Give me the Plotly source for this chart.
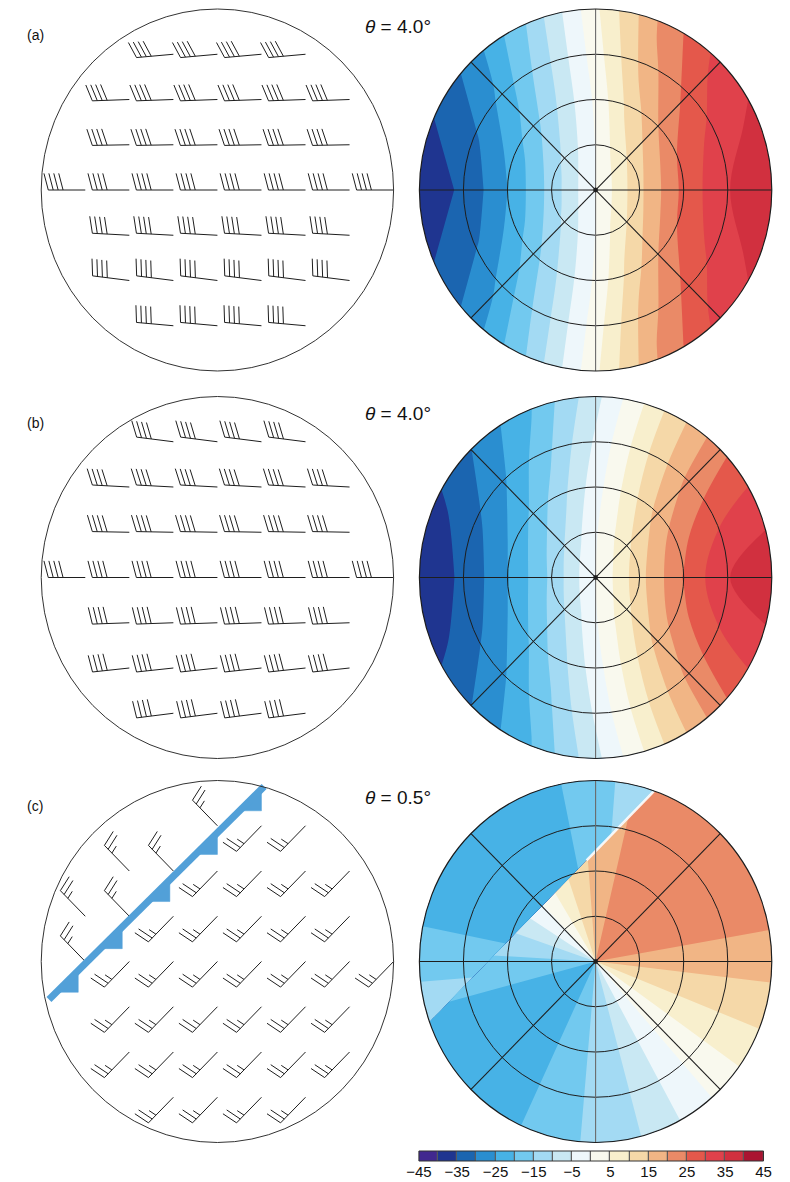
import math
import plotly.graph_objects as go

W, H = 790, 1182

# ---------------- colour levels (m s-1) ----------------
LEVELS = list(range(-45, 50, 5))
BAND_COLORS = [
    "#41288f", "#1f3590", "#1b65b0", "#2a8ed0", "#47b2e6", "#72c9ef",
    "#a3daf3", "#c9e8f3", "#eef7fb", "#f9f9ee", "#f8efcd", "#f5d8a8",
    "#f1b585", "#ea8a67", "#e4584b", "#e0414b", "#d1303f", "#aa1431",
]
TICK_VALUES = [-45, -35, -25, -15, -5, 5, 15, 25, 35, 45]
TICK_TEXT = ["\u221245", "\u221235", "\u221225", "\u221215", "\u22125",
             "5", "15", "25", "35", "45"]

# ---------------- radial velocity, panels (a) and (b) ----------------
AZ_AB = [0, 22.5, 45, 67.5, 90, 112.5, 135, 157.5,
         180, 202.5, 225, 247.5, 270, 292.5, 315, 337.5]
RINGS_AB = [0.25, 0.5, 0.75, 1.0]
VR_A = [
    [0.2, 5.8, 10.0, 12.9, 13.9, 12.9, 10.0, 5.8, 0.2, -4.8, -9.1, -12.0, -13.0, -12.0, -9.1, -4.8],
    [1.0, 11.8, 19.9, 25.0, 26.4, 25.0, 19.9, 11.8, 1.0, -8.7, -17.1, -22.9, -25.0, -22.9, -17.1, -8.7],
    [2.6, 17.5, 27.0, 32.5, 34.8, 32.5, 27.0, 17.5, 2.6, -11.7, -23.6, -31.1, -34.2, -31.1, -23.6, -11.7],
    [4.0, 21.5, 32.0, 36.5, 38.5, 36.5, 32.0, 21.5, 4.0, -14.5, -28.5, -35.3, -38.0, -35.3, -28.5, -14.5],
]
VR_B = [
    [-0.6, 4.4, 8.9, 12.1, 13.3, 12.1, 8.9, 4.4, -0.6, -5.9, -10.0, -12.8, -13.9, -12.8, -10.0, -5.9],
    [-2.2, 7.5, 16.8, 23.1, 25.4, 23.1, 16.8, 7.5, -2.2, -11.6, -19.0, -23.7, -25.4, -23.7, -19.0, -11.6],
    [-4.2, 9.3, 21.4, 29.7, 34.8, 29.7, 21.4, 9.3, -4.2, -16.8, -26.0, -31.8, -34.1, -31.8, -26.0, -16.8],
    [-6.5, 9.7, 23.6, 33.3, 38.5, 33.3, 23.6, 9.7, -6.5, -20.8, -30.1, -37.0, -38.5, -37.0, -30.1, -20.8],
]
VR_CENTER = 0.0

# ---------------- radial velocity, panel (c) ----------------
AZ_C_WARM = list(range(0, 360, 15))
VR_C_WARM = [16.5, 20.5, 22.5, 23.5, 23.0, 21.5, 17.0, 12.5, 7.0, 1.5, -4.5, -10.0,
             -13.5, -18.0, -21.0, -23.0, -22.5, -20.0, -16.0, -11.5, -6.0, -0.5, 5.5, 11.5]
AZ_C_COLD = [250.7, 255, 270, 285, 300, 315, 330, 345, 360, 375, 379.3]
VR_C_COLD = [-10.5, -12.0, -17.0, -21.0, -23.0, -24.0, -23.0, -21.0, -17.0, -12.0, -10.5]
FRONT_RADAR_X = [0.33, -0.94]
FRONT_RADAR_Y = [0.94, -0.33]

# ---------------- wind barbs ----------------
ROW_Y_AB = [0.75, 0.5, 0.25, 0.0, -0.25, -0.5, -0.75]
ROW_X_AB = [
    [-0.25, 0.0, 0.25, 0.5],
    [-0.5, -0.25, 0.0, 0.25, 0.5, 0.75],
    [-0.5, -0.25, 0.0, 0.25, 0.5, 0.75],
    [-0.75, -0.5, -0.25, 0.0, 0.25, 0.5, 0.75, 1.0],
    [-0.5, -0.25, 0.0, 0.25, 0.5, 0.75],
    [-0.5, -0.25, 0.0, 0.25, 0.5, 0.75],
    [-0.25, 0.0, 0.25, 0.5],
]
DIR_A = [265, 268, 269, 270, 273, 277, 275]
DIR_B = [277, 273, 271, 270, 268, 264, 263]
SPEED_AB = 40
FEATHER_TILT_AB = [66, 69, 72, 75, 78, 81, 83]

COLD_X = [-0.75, -0.75, -0.5, -0.5, -0.25, 0.0]
COLD_Y = [0.0, 0.25, 0.25, 0.5, 0.5, 0.75]
WARM_X = [0.25, 0.5,
          0.0, 0.25, 0.5, 0.75,
          -0.25, 0.0, 0.25, 0.5, 0.75,
          -0.5, -0.25, 0.0, 0.25, 0.5, 0.75, 1.0,
          -0.5, -0.25, 0.0, 0.25, 0.5, 0.75,
          -0.5, -0.25, 0.0, 0.25, 0.5, 0.75,
          -0.25, 0.0, 0.25, 0.5]
WARM_Y = [0.75] * 2 + [0.5] * 4 + [0.25] * 5 + [0.0] * 7 + [-0.25] * 6 + [-0.5] * 6 + [-0.75] * 4
DIR_COLD, DIR_WARM = 315, 225
SPEED_C = 25

FRONT_X = [-0.956, 0.265]
FRONT_Y = [-0.21, 0.967]
TOOTH_X = [-0.79, -0.54, -0.27, 0.0, 0.25]

# ---------------- layout geometry ----------------
R_PX = 181.0
HALF = 1.04
COL_CX = [210.0, 598.5]
ROW_CY = [190.0, 577.5, 961.5]
INK = "#1e1e1e"
FRONT_BLUE = "#52a0d8"


def dom_x(cx):
    h = HALF * R_PX
    return [(cx - h) / W, (cx + h) / W]


def dom_y(cy):
    h = HALF * R_PX
    return [1 - (cy + h) / H, 1 - (cy - h) / H]


colorscale = []
for i, c in enumerate(BAND_COLORS):
    colorscale.append([i / 18, c])
    colorscale.append([(i + 1) / 18, c])

fig = go.Figure()
layout_axes = {}
shapes = []
annotations = []


def axis_names(k):
    s = "" if k == 1 else str(k)
    return "x" + s, "y" + s, "xaxis" + s, "yaxis" + s


def barb_lines(xs, ys, dirs, speeds, tilts, staff=0.21, feather=0.095, gap=0.028):
    X, Y = [], []
    for x0, y0, d, s, tilt in zip(xs, ys, dirs, speeds, tilts):
        bt = math.radians(-tilt)
        ux, uy = math.sin(math.radians(d)), math.cos(math.radians(d))
        ex, ey = x0 + staff * ux, y0 + staff * uy
        X += [x0, ex, None]
        Y += [y0, ey, None]
        bx = ux * math.cos(bt) - uy * math.sin(bt)
        by = ux * math.sin(bt) + uy * math.cos(bt)
        n_full = int(s // 10)
        half = (s - 10 * n_full) >= 5
        for i in range(n_full + (1 if half else 0)):
            ln = feather if i < n_full else feather * 0.5
            px, py = ex - i * gap * ux, ey - i * gap * uy
            X += [px, px + ln * bx, None]
            Y += [py, py + ln * by, None]
    return X, Y


def add_carpet(cid, xa, ya, a, b, x, y, z):
    hidden = dict(showgrid=False, showline=False, showticklabels="none",
                  startline=False, endline=False, minorgridcount=0)
    fig.add_trace(go.Carpet(carpet=cid, a=a, b=b, x=x, y=y, xaxis=xa, yaxis=ya,
                            aaxis=dict(hidden, smoothing=0),
                            baxis=dict(hidden, smoothing=1)))
    fig.add_trace(go.Contourcarpet(
        carpet=cid, a=a, b=b, z=z, autocontour=False,
        contours=dict(start=-45, end=45, size=5, coloring="fill", showlines=False),
        line=dict(width=0, smoothing=1), colorscale=colorscale,
        zmin=-45, zmax=45, showscale=False, xaxis=xa, yaxis=ya))


def polar_carpet(cid, xa, ya, az_list, radii, rows, seam):
    """rows[i][j] is the value at radius radii[i] and azimuth az_list[j];
    the periodic grid is opened at azimuth `seam`."""
    n = len(az_list)
    j0 = az_list.index(seam)
    a, b, x, y, z = [], [], [], [], []
    for step in range(n + 1):
        j = (j0 + step) % n
        az = seam + (az_list[j] - seam) % 360 if step < n else seam + 360
        for i, r in enumerate(radii):
            a.append(r)
            b.append(az)
            x.append(r * math.sin(math.radians(az)))
            y.append(r * math.cos(math.radians(az)))
            z.append(rows[i][j])
    add_carpet(cid, xa, ya, a, b, x, y, z)


def front_radius(az):
    x0, y0 = FRONT_RADAR_X[0], FRONT_RADAR_Y[0]
    dx, dy = FRONT_RADAR_X[1] - x0, FRONT_RADAR_Y[1] - y0
    ux, uy = math.sin(math.radians(az)), math.cos(math.radians(az))
    den = ux * dy - uy * dx
    return min((x0 * dy - y0 * dx) / den, 1.0)


def radar_grid(xr, yr):
    shapes.append(dict(type="circle", xref=xr, yref=yr, x0=-1.037, x1=1.037, y0=-1.037, y1=1.037,
                       line=dict(color="white", width=12)))
    for r in (0.25, 0.5, 0.75):
        shapes.append(dict(type="circle", xref=xr, yref=yr, x0=-r, x1=r, y0=-r, y1=r,
                           line=dict(color=INK, width=1)))
    for ang in (45, 90, 135):
        t = math.radians(ang)
        shapes.append(dict(type="line", xref=xr, yref=yr,
                           x0=-math.sin(t), y0=-math.cos(t), x1=math.sin(t), y1=math.cos(t),
                           line=dict(color=INK, width=1.1)))
    shapes.append(dict(type="line", xref=xr, yref=yr, x0=0, y0=-1, x1=0, y1=1,
                       line=dict(color="#6a6a6a", width=1.1)))
    shapes.append(dict(type="circle", xref=xr, yref=yr, x0=-1, x1=1, y0=-1, y1=1,
                       line=dict(color=INK, width=1.2)))
    shapes.append(dict(type="circle", xref=xr, yref=yr, x0=-0.012, x1=0.012, y0=-0.012, y1=0.012,
                       fillcolor=INK, line=dict(color=INK, width=0.5)))


k = 0
for row, cy in enumerate(ROW_CY):
    for col, cx in enumerate(COL_CX):
        k += 1
        xa, ya, xk, yk = axis_names(k)
        layout_axes[xk] = dict(domain=dom_x(cx), range=[-HALF, HALF], visible=False,
                               anchor=ya, fixedrange=True)
        layout_axes[yk] = dict(domain=dom_y(cy), range=[-HALF, HALF], visible=False,
                               anchor=xa, fixedrange=True)
        if col == 0:
            if row < 2:
                dirs = DIR_A if row == 0 else DIR_B
                xs, ys, ds, ts = [], [], [], []
                for yy, xrow, d, t in zip(ROW_Y_AB, ROW_X_AB, dirs, FEATHER_TILT_AB):
                    xs += xrow
                    ys += [yy] * len(xrow)
                    ds += [d] * len(xrow)
                    ts += [t] * len(xrow)
                bx, by = barb_lines(xs, ys, ds, [SPEED_AB] * len(xs), ts)
                fig.add_trace(go.Scatter(x=bx, y=by, mode="lines", xaxis=xa, yaxis=ya,
                                         line=dict(color=INK, width=1), hoverinfo="skip",
                                         showlegend=False))
            else:
                for sx, sy, d in ((COLD_X, COLD_Y, DIR_COLD), (WARM_X, WARM_Y, DIR_WARM)):
                    bx, by = barb_lines(sx, sy, [d] * len(sx), [SPEED_C] * len(sx),
                                        [78] * len(sx), staff=0.2, feather=0.092, gap=0.03)
                    fig.add_trace(go.Scatter(x=bx, y=by, mode="lines", xaxis=xa, yaxis=ya,
                                             line=dict(color=INK, width=1), hoverinfo="skip",
                                             showlegend=False))
                # cold front with its teeth
                slope = (FRONT_Y[1] - FRONT_Y[0]) / (FRONT_X[1] - FRONT_X[0])
                tooth = 0.12
                for tx in TOOTH_X:
                    ty = FRONT_Y[0] + (tx - FRONT_X[0]) * slope
                    fig.add_trace(go.Scatter(
                        x=[tx, tx, tx - tooth / slope, tx], y=[ty, ty - tooth, ty - tooth, ty],
                        mode="lines", fill="toself", fillcolor=FRONT_BLUE,
                        line=dict(color=FRONT_BLUE, width=0.5), xaxis=xa, yaxis=ya,
                        hoverinfo="skip", showlegend=False))
                fig.add_trace(go.Scatter(x=FRONT_X, y=FRONT_Y, mode="lines", xaxis=xa, yaxis=ya,
                                         line=dict(color=FRONT_BLUE, width=7), hoverinfo="skip",
                                         showlegend=False))
            shapes.append(dict(type="circle", xref=xa, yref=ya, x0=-1, x1=1, y0=-1, y1=1,
                               line=dict(color="#333333", width=1)))
        else:
            if row < 2:
                table = VR_A if row == 0 else VR_B
                rows = [[VR_CENTER] * len(AZ_AB)] + table
                polar_carpet("c%d" % k, xa, ya, AZ_AB, [0.004] + RINGS_AB, rows, seam=270)
            else:
                # warm sector: velocity depends on azimuth only
                rows = [VR_C_WARM, VR_C_WARM]
                polar_carpet("c%d" % k, xa, ya, AZ_C_WARM, [0.004, 1.0], rows, seam=225)
                # air behind the front, bounded by the front line and the outer ring
                a, b, x, y, z = [], [], [], [], []
                for az, v in zip(AZ_C_COLD, VR_C_COLD):
                    rin = front_radius(az)
                    for frac in (0.0, 1.0):
                        r = rin + frac * (1.0 - rin)
                        a.append(frac)
                        b.append(az)
                        x.append(r * math.sin(math.radians(az)))
                        y.append(r * math.cos(math.radians(az)))
                        z.append(v)
                add_carpet("c%dcold" % k, xa, ya, a, b, x, y, z)
                fx0, fy0 = FRONT_RADAR_X[0], FRONT_RADAR_Y[0]
                fx1 = fx0 + 0.3 * (FRONT_RADAR_X[1] - fx0)
                fy1 = fy0 + 0.3 * (FRONT_RADAR_Y[1] - fy0)
                fig.add_trace(go.Scatter(x=[fx0, fx1], y=[fy0, fy1], mode="lines",
                                         xaxis=xa, yaxis=ya, opacity=0.9,
                                         line=dict(color="white", width=2.5),
                                         hoverinfo="skip", showlegend=False))
            radar_grid(xa, ya)

# ---------------- colour bar ----------------
k += 1
xa, ya, xk, yk = axis_names(k)
mids = [lv + 2.5 for lv in LEVELS[:-1]]
fig.add_trace(go.Heatmap(x=mids, y=[0], z=[mids], colorscale=colorscale, zmin=-45, zmax=45,
                         xgap=1.2, showscale=False, xaxis=xa, yaxis=ya, hoverinfo="skip"))
cb_x = [417 / W, 771 / W]
cb_y = [1 - 1161 / H, 1 - 1151 / H]
layout_axes[xk] = dict(domain=cb_x, range=[-45, 45], anchor=ya, tickvals=TICK_VALUES,
                       ticktext=TICK_TEXT, ticks="", showgrid=False, zeroline=False,
                       showline=False, tickfont=dict(size=15, color="#111111"), fixedrange=True)
layout_axes[yk] = dict(domain=cb_y, range=[-0.5, 0.5], visible=False, anchor=xa, fixedrange=True)
shapes.append(dict(type="rect", xref="paper", yref="paper", x0=cb_x[0], x1=cb_x[1],
                   y0=cb_y[0], y1=cb_y[1], fillcolor="#5a5a5a", line=dict(width=0), layer="below"))
shapes.append(dict(type="rect", xref="paper", yref="paper", x0=cb_x[0], x1=cb_x[1],
                   y0=cb_y[0], y1=cb_y[1], line=dict(color="#333333", width=1)))

# ---------------- text ----------------
for lab, cy, ang in (("(a)", ROW_CY[0], "4.0"), ("(b)", ROW_CY[1], "4.0"), ("(c)", ROW_CY[2], "0.5")):
    annotations.append(dict(text=lab, x=23 / W, y=1 - (cy - 155) / H, xref="paper", yref="paper",
                            showarrow=False, xanchor="center", yanchor="middle",
                            font=dict(size=14, color="#111111")))
    annotations.append(dict(text="<i>\u03b8</i> = %s\u00b0" % ang, x=395 / W, y=1 - (cy - 164) / H,
                            xref="paper", yref="paper", showarrow=False, xanchor="center",
                            yanchor="middle", font=dict(size=19, color="#111111")))

fig.update_layout(
    width=W, height=H, autosize=False,
    margin=dict(l=0, r=0, t=0, b=0),
    paper_bgcolor="white", plot_bgcolor="white",
    font=dict(family="Liberation Sans, Arial, sans-serif", color="#111111"),
    showlegend=False, shapes=shapes, annotations=annotations,
    **layout_axes,
)

fig.write_html("out.html")
